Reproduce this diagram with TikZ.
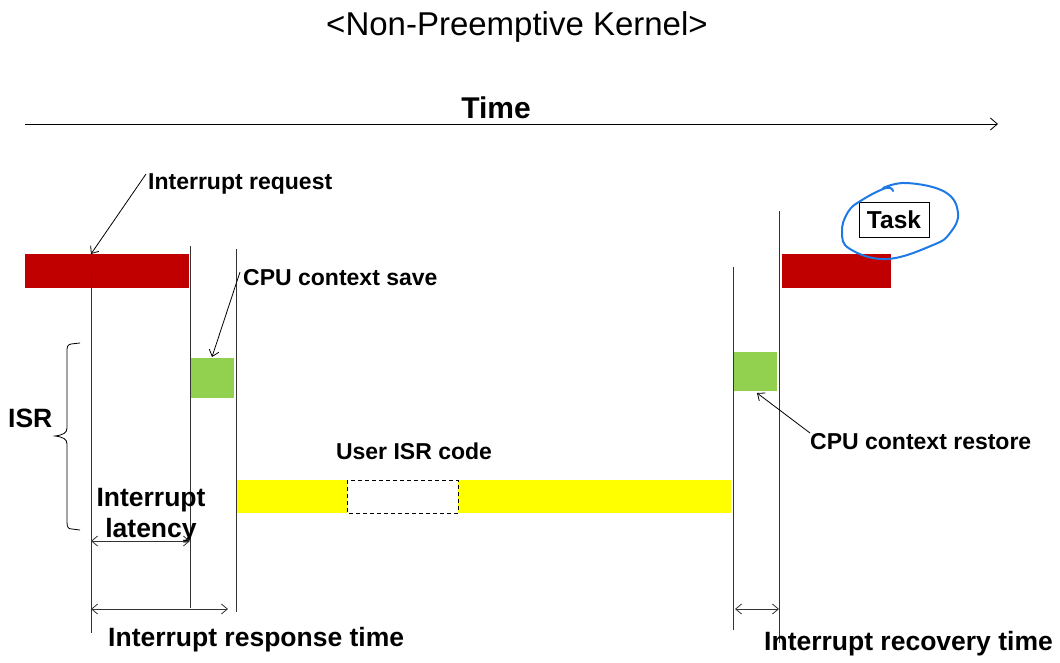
\documentclass[tikz,border=0pt]{standalone}
\usepackage{fontspec}
\setmainfont{Liberation Sans}
\usetikzlibrary{arrows.meta}
\definecolor{taskred}{HTML}{C00000}
\definecolor{ctxgreen}{HTML}{92D050}
\definecolor{isryellow}{HTML}{FFFF00}
\definecolor{penblue}{HTML}{1E78E6}
\tikzset{
  lbl/.style={font=\fontsize{23}{26}\selectfont\bfseries, inner sep=0pt},
  biglbl/.style={font=\fontsize{26.5}{29}\selectfont\bfseries, inner sep=0pt},
  vline/.style={line width=1pt, draw=black!80},
  pointer/.style={-{Straight Barb[length=6pt,width=10pt]}, line width=0.8pt},
  dim/.style={{Straight Barb[length=6pt,width=10pt]}-{Straight Barb[length=6pt,width=10pt]}, line width=0.8pt, draw=black!80}
}
\begin{document}
\begin{tikzpicture}[x=1pt,y=-1pt]
\useasboundingbox (0,0) rectangle (1060,662);
% title
\node[font=\fontsize{33}{36}\selectfont, inner sep=0pt] (title) at (517,27) {<Non-Preemptive Kernel>};
\node[font=\fontsize{30}{33}\selectfont\bfseries, inner sep=0pt] (time) at (496,108) {Time};
\coordinate (t0) at (25,124);
\coordinate (t1) at (998,124);
\draw[-{Straight Barb[length=7pt,width=12pt]}, line width=0.8pt] (t0) -- (t1);

% bars
\fill[taskred] (25,254) rectangle (189,288);
\fill[taskred] (782,254) rectangle (891,288);
\fill[ctxgreen] (191,358) rectangle (234,398);
\fill[ctxgreen] (734,352) rectangle (777,391);
\fill[isryellow] (237,480) rectangle (731,513);
\fill[white] (347,480) rectangle (458,513);
\draw[line width=0.8pt, dash pattern=on 4pt off 3pt] (347,480) rectangle (458,513);

% vertical lines
\coordinate (v1a) at (91,272);  \coordinate (v1b) at (91,633);
\coordinate (v2a) at (190,246); \coordinate (v2b) at (190,608);
\coordinate (v3a) at (236,249); \coordinate (v3b) at (236,612);
\coordinate (v4a) at (733,267); \coordinate (v4b) at (733,630);
\coordinate (v5a) at (779,211); \coordinate (v5b) at (779,643);
\draw[vline] (v1a) -- (v1b);
\draw[vline] (v2a) -- (v2b);
\draw[vline] (v3a) -- (v3b);
\draw[vline] (v4a) -- (v4b);
\draw[vline] (v5a) -- (v5b);

% labels
\node[lbl, anchor=west] (ireq) at (148,184) {Interrupt request};
\node[lbl, anchor=west] (csave) at (243,278) {CPU context save};
\node[lbl, anchor=west] (crest) at (810,442) {CPU context restore};
\node[lbl] (uisr) at (414,451) {User ISR code};
\node[biglbl, anchor=west] (isr) at (8,418) {ISR};
\node[biglbl] (il1) at (151,500) {Interrupt};
\node[biglbl] (il2) at (151,531) {latency};
\node[biglbl, anchor=west] (irt) at (108,640) {Interrupt response time};
\node[biglbl, anchor=west] (irec) at (764,644) {Interrupt recovery time};
\node[draw, line width=0.8pt, font=\fontsize{24.5}{27}\selectfont\bfseries, minimum width=70pt, minimum height=35pt, inner sep=0pt] (task) at (894,219.5) {Task};

% pointer arrows
\coordinate (ireqTip) at (91,254);
\coordinate (csaveTip) at (212,357);
\coordinate (crestTip) at (757,393);
\draw[pointer] (146,174) -- (ireqTip);
\draw[pointer] (240,272) -- (csaveTip);
\draw[pointer] (810,433) -- (crestTip);

% dimension arrows
\coordinate (la) at (91,541);  \coordinate (lb) at (190,541);
\coordinate (ra) at (91,609);  \coordinate (rb) at (228,609);
\coordinate (ca) at (735,609); \coordinate (cb) at (779,609);
\draw[dim] (la) -- (lb);
\draw[dim] (ra) -- (rb);
\draw[dim] (ca) -- (cb);

% brace
\draw[line width=0.8pt] (80,343) -- (71,344) .. controls (67,345) and (67,347) .. (67,352)
  -- (67,428) .. controls (67,433) and (63,435) .. (55,436)
  .. controls (63,437) and (67,439) .. (67,444)
  -- (67,522) .. controls (67,527) and (68,529) .. (72,529) -- (80,530);

% blue hand-drawn circle
\draw[penblue, line width=2pt, line cap=round] plot[smooth, tension=0.7] coordinates {
  (883,188) (907,183) (945,192) (958,213) (950,233) (933,245) (887,259) (850,249) (842,232) (848,212) (862,200) (886,188) (893,191) };
\end{tikzpicture}
\end{document}
